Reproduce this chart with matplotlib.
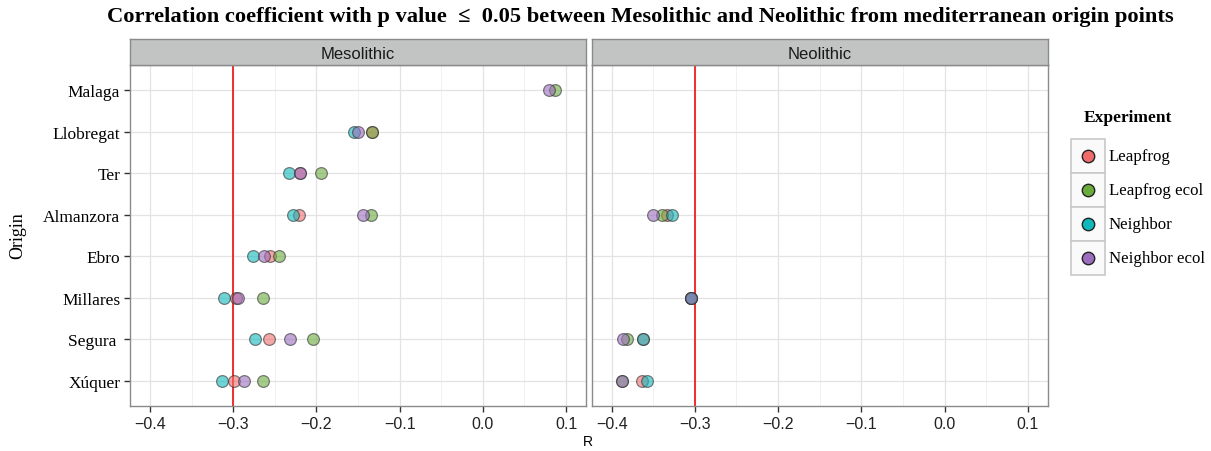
import numpy as np
import matplotlib
matplotlib.use("Agg")
import matplotlib.pyplot as plt
from matplotlib.patches import Rectangle

origins = ["Malaga", "Llobregat", "Ter", "Almanzora", "Ebro", "Millares", "Segura ", "Xúquer"]
experiments = ["Leapfrog", "Leapfrog ecol", "Neighbor", "Neighbor ecol"]
periods = ["Mesolithic", "Neolithic"]
nan = np.nan

# Mesolithic R values per experiment (order follows `origins`)
meso_leapfrog      = [nan, -0.133, -0.220, -0.221, -0.256, -0.297, -0.2565, -0.2985]
meso_leapfrog_ecol = [0.087, -0.133, -0.195, -0.1345, -0.2445, -0.264, -0.2045, -0.2645]
meso_neighbor      = [nan, -0.155, -0.2325, -0.2285, -0.2765, -0.3105, -0.274, -0.314]
meso_neighbor_ecol = [0.079, -0.1505, -0.220, -0.1445, -0.2625, -0.2945, -0.232, -0.287]

# Neolithic R values per experiment
neo_leapfrog      = [nan, nan, nan, -0.334, nan, -0.305, -0.362, -0.364]
neo_leapfrog_ecol = [nan, nan, nan, -0.339, nan, -0.305, -0.381, -0.387]
neo_neighbor      = [nan, nan, nan, -0.327, nan, -0.305, -0.362, -0.357]
neo_neighbor_ecol = [nan, nan, nan, -0.350, nan, -0.305, -0.386, -0.387]

threshold = -0.3
xticks = [-0.4, -0.3, -0.2, -0.1, 0.0, 0.1]
xticklabels = ["\u22120.4", "\u22120.3", "\u22120.2", "\u22120.1", "0.0", "0.1"]

data = {
    "Mesolithic": [meso_leapfrog, meso_leapfrog_ecol, meso_neighbor, meso_neighbor_ecol],
    "Neolithic": [neo_leapfrog, neo_leapfrog_ecol, neo_neighbor, neo_neighbor_ecol],
}
colors = ["#F06C6C", "#6AAB3C", "#10B8BC", "#9A6DBE"]

W, H = 1211, 452
fig = plt.figure(figsize=(W / 100, H / 100), dpi=100)

def fx(px):
    return px / W

def fy(py):
    return 1 - py / H

serif = "Liberation Serif"
sans = "Liberation Sans"

panel_left = [130, 591.7]
panel_w = 456.0
top_px, bot_px = 66, 407
strip_top = 40

for i, period in enumerate(periods):
    ax = fig.add_axes([fx(panel_left[i]), fy(bot_px), panel_w / W, (bot_px - top_px) / H])
    ax.set_facecolor("white")
    ax.set_xticks(xticks)
    ax.set_xticklabels(xticklabels, fontfamily=sans, fontsize=11.5, color="#222222")
    ax.set_xticks([-0.35, -0.25, -0.15, -0.05, 0.05], minor=True)
    ax.set_yticks(range(len(origins)))
    ax.tick_params(axis="both", which="major", length=4, width=1, color="#333333", pad=3)
    ax.tick_params(axis="x", which="minor", length=0)
    if i == 0:
        ax.set_yticklabels(origins, fontfamily=serif, fontsize=12.5, color="black")
    else:
        ax.set_yticklabels([])
        ax.tick_params(axis="y", which="both", length=0)
    ax.set_xlim(-0.424, 0.124)
    ax.set_ylim(len(origins) - 1 + 0.6, -0.6)
    ax.grid(True, which="major", color="#E3E3E3", lw=0.9)
    ax.grid(True, which="minor", axis="x", color="#F1F1F1", lw=0.7)
    ax.set_axisbelow(True)
    for s in ax.spines.values():
        s.set_color("#8A8A8A")
        s.set_linewidth(1.0)
    ax.axvline(threshold, color="#F01E1E", lw=1.3, zorder=2)
    ypos = np.arange(len(origins))
    for vals, c in zip(data[period], colors):
        v = np.array(vals, dtype=float)
        ax.scatter(v, ypos, s=72, facecolor=c, edgecolor="#333333", linewidths=0.9,
                   alpha=0.6, zorder=3)
    # strip
    sax = fig.add_axes([fx(panel_left[i]), fy(top_px), panel_w / W, (top_px - strip_top) / H])
    sax.set_facecolor("#C2C3C3")
    sax.set_xticks([])
    sax.set_yticks([])
    for s in sax.spines.values():
        s.set_color("#8A8A8A")
        s.set_linewidth(1.0)
    sax.text(0.5, 0.45, period, ha="center", va="center", fontfamily=sans, fontsize=12,
             color="#1A1A1A", transform=sax.transAxes)

fig.text(fx(640), fy(17), "Correlation coefficient with p value  \u2264  0.05 between Mesolithic and Neolithic from mediterranean origin points",
         ha="center", va="center", fontfamily=serif, fontweight="bold", fontsize=16.2)
fig.text(fx(18), fy(236), "Origin", rotation=90, ha="center", va="center",
         fontfamily=serif, fontsize=13)
fig.text(fx(588), fy(442), "R", ha="center", va="center", fontfamily=sans, fontsize=10)

# legend
lax = fig.add_axes([0, 0, 1, 1], facecolor="none")
lax.set_xlim(0, W)
lax.set_ylim(H, 0)
lax.axis("off")
lax.text(1128, 118, "Experiment", ha="center", va="center", fontfamily=serif,
         fontweight="bold", fontsize=12.5)
box_top = 139.5
box_h = 34.2
for k, (lab, c) in enumerate(zip(experiments, colors)):
    y0 = box_top + k * box_h
    lax.add_patch(Rectangle((1070.5, y0), 34.5, box_h, facecolor="#FAFAFA",
                            edgecolor="#C8C8C8", lw=1.2))
    lax.scatter([1087.7], [y0 + box_h / 2], s=80, facecolor=c, edgecolor="#222222",
                linewidths=1.0, zorder=3)
    lax.text(1109, y0 + box_h / 2, lab, ha="left", va="center", fontfamily=serif,
             fontsize=12.2)

fig.savefig("out.png", dpi=100)
